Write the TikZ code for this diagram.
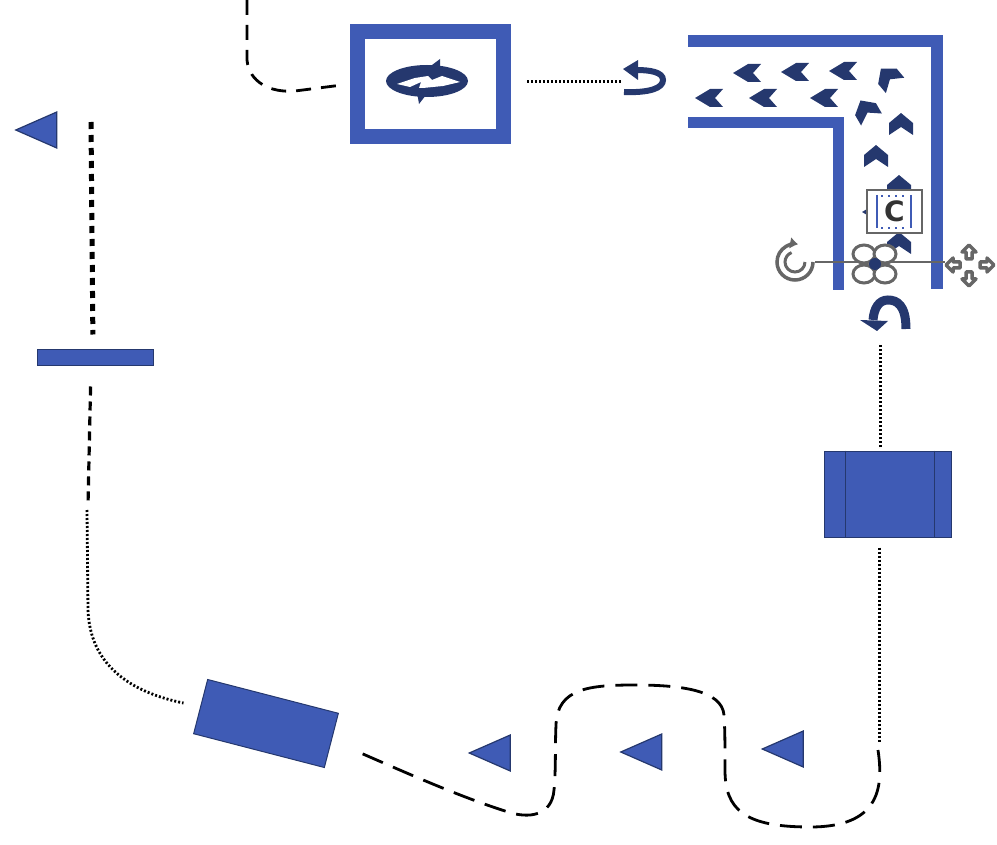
\documentclass[tikz,border=0pt]{standalone}
\usepackage{fontspec}
\setsansfont{DejaVu Sans}
\usepackage{tikz}
\usetikzlibrary{arrows.meta,shapes.geometric}
\definecolor{shapeBlue}{HTML}{3F5BB5}
\definecolor{darkNavy}{HTML}{25386E}
\definecolor{handleGray}{HTML}{666666}
\tikzset{%
  >={Latex[width=2mm,length=2mm]},
  % Specifications for style of nodes:
       base/.style = {rectangle, draw=darkNavy, line width=1pt, fill=shapeBlue,
                      inner sep=0pt},
    triMark/.style = {isosceles triangle, isosceles triangle apex angle=48,
                      isosceles triangle stretches, shape border rotate=180,
                      draw=darkNavy, line width=1.2pt, fill=shapeBlue, inner sep=0pt,
                      minimum width=36, minimum height=41},
    ringBox/.style = {rectangle, draw=shapeBlue, line width=15pt, fill=white,
                      inner sep=0pt, minimum width=146, minimum height=105},
   iconSpot/.style = {inner sep=0pt, minimum width=40, minimum height=34},
  % Specifications for style of connectors:
   dashLine/.style = {line width=2.8pt, dash pattern=on 15pt off 10pt},
  thickDash/.style = {line width=5pt, dash pattern=on 7pt off 6pt},
    dotLine/.style = {line width=3pt, dash pattern=on 2pt off 2pt},
   wallLine/.style = {draw=shapeBlue, line width=12pt, line cap=butt, line join=miter},
  chevron/.pic = {\fill[darkNavy] (-14,0) -- (1,-9) -- (14,-9) -- (6,0) -- (14,9) -- (1,9) -- cycle;},
  chevronUp/.pic = {\fill[darkNavy] (0,-11) -- (12,-1) -- (12,11) -- (0,3) -- (-12,11) -- (-12,-1) -- cycle;},
  moveTip/.pic = {\draw[handleGray, fill=white, line width=3.5pt, line join=round]
      (0,-8) -- (-7,-1) -- (-3,-1) -- (-3,6) -- (3,6) -- (3,-1) -- (7,-1) -- cycle;},
}
\begin{document}
\begin{tikzpicture}[x=1pt,y=-1pt]
  \useasboundingbox (0,0) rectangle (997,845);
  % Specification of nodes (position, etc.)
  \node (firstTri)  [triMark] at (45,130) {};
  \node (thinBar)   [base, minimum width=116, minimum height=16] at (95,358) {};
  \node (ringFrame) [ringBox] at (430.5,84) {};
  \node (ringIcon)  [iconSpot, minimum width=82] at (427,81) {};
  \node (turnIcon)  [iconSpot] at (645,82) {};
  \node (uTurn)     [iconSpot] at (885,315) {};
  \node (bigBox)    [base, minimum width=127, minimum height=86] at (887.5,494) {};
  \node (tiltBox)   [base, minimum width=135, minimum height=56, rotate=-14.5] at (266,723.5) {};
  \node (triOne)    [triMark] at (498.5,753) {};
  \node (triTwo)    [triMark] at (650,752) {};
  \node (triThree)  [triMark] at (791.5,749) {};
  \coordinate (topFree) at (247,0);
  \coordinate (leftTop) at (91,122);
  \draw[darkNavy, line width=1pt] (bigBox.north west) ++(22,0) -- ++(0,86);
  \draw[darkNavy, line width=1pt] (bigBox.north east) ++(-17,0) -- ++(0,86);

  % walls of the corridor
  \draw[wallLine] (688,41) -- (937,41) -- (937,289);
  \draw[wallLine, line width=11pt] (688,123) -- (838,123) -- (838,290);
  % chevrons in the corridor
  \foreach \px/\py in {747/73, 795/72, 843/71, 709/98, 763/98, 824/98, 876/212}
    \pic at (\px,\py) {chevron};
  \foreach \px/\py/\turn in {888/77/40, 866/110/30, 901/124/0, 876/156/0, 899/186/0, 899/243/0}
    \pic[rotate=\turn] at (\px,\py) {chevronUp};

  % ring icon
  \fill[darkNavy] (ringIcon) ellipse [x radius=41, y radius=16];
  \fill[darkNavy] (428,68) -- (440,59) -- (440,72) -- cycle;
  \fill[darkNavy] (426,95) -- (419,104) -- (417,92) -- cycle;
  \fill[white] (397,84) -- (415,78) -- (428,76) -- (432,80) -- (442,76) -- (460,82)
      -- (443,86) -- (423,88) -- (419,88) -- (421,82) -- (410,87) -- cycle;
  % turn icon
  \draw[darkNavy, line width=6pt] (624,92) .. controls (650,93) and (663,88) .. (663,80)
      .. controls (663,72) and (650,70) .. (636,70);
  \fill[darkNavy] (623,69) -- (638,60) -- (638,80) -- cycle;
  % u-turn icon
  \draw[darkNavy, line width=9pt] (906,329) .. controls (906,305) and (897,300) .. (888,300)
      .. controls (879,300) and (874,308) .. (873,320);
  \fill[darkNavy] (860,320) -- (888,321) -- (877,331) -- cycle;

  % selection handles
  \draw[handleGray, line width=1.5pt] (815,262) -- (945,262);
  \draw[handleGray, line width=3.5pt, -{Latex[width=12pt,length=8pt]}] (813,262) arc [start angle=0, end angle=280, radius=18];
  \draw[handleGray, line width=3pt] (805,262) arc [start angle=0, end angle=250, radius=10];
  \foreach \px/\py in {864/254, 885/254, 864/274, 885/274}
    \draw[handleGray, line width=3pt, fill=white] (\px,\py) ellipse [x radius=11, y radius=9];
  \fill[darkNavy] (875,264) circle (6);
  \pic[rotate=0]   at (969,253) {moveTip};
  \pic[rotate=180] at (969,278) {moveTip};
  \pic[rotate=90]  at (954,265) {moveTip};
  \pic[rotate=-90] at (986,265) {moveTip};
  \node (cBox) [draw=handleGray, line width=1.5pt, fill=white, inner sep=0pt,
      minimum width=55, minimum height=43, text=black!80,
      font=\sffamily\bfseries\fontsize{28}{28}\selectfont] at (894.5,211.5) {C};
  \draw[shapeBlue, line width=2pt] (877,195) -- (877,228);
  \draw[shapeBlue, line width=2pt] (911,195) -- (911,228);
  \draw[shapeBlue, line width=2pt, dash pattern=on 2pt off 5pt] (881,196) -- (908,196);
  \draw[shapeBlue, line width=2pt, dash pattern=on 2pt off 5pt] (881,228) -- (908,228);

  % Specification of lines between nodes specified above
  \draw[dashLine, shorten >=14pt] (topFree) -- (247,60) .. controls (249,82) and (270,93) .. (295,91)
      -- (ringFrame.west) ;
  \draw[dotLine, shorten <=16pt, shorten >=2pt] (turnIcon.west -| ringFrame.east) -- (turnIcon.west);
  \draw[dotLine, shorten <=13pt] (uTurn.south -| 880,0) -- ++(0,116);
  \draw[dotLine, shorten <=10pt] (bigBox.south -| 879,0) -- (879,742);
  \draw[dashLine, dash pattern=on 22pt off 11pt, shorten >=25pt] (878,750) .. controls (884,790) and (878,827) .. (810,827)
      .. controls (745,827) and (725,810) .. (725,770)
      .. controls (725,745) and (725,730) .. (724,715)
      .. controls (722,690) and (680,685) .. (635,685)
      .. controls (590,685) and (557,688) .. (556,725)
      .. controls (555,745) and (556,770) .. (554,790)
      .. controls (552,815) and (530,820) .. (505,811)
      .. controls (455,795) and (400,770) .. (tiltBox.east);
  \draw[thickDash, shorten >=15pt] (leftTop) -- ([xshift=-2pt]thinBar.north);
  \draw[dashLine, line width=3.2pt, dash pattern=on 9pt off 6pt, shorten <=20pt] (thinBar.south -| 91,0) -- (88,505);
  \draw[dotLine, line width=2.8pt, shorten >=17pt] (87,510) -- (88,610) .. controls (90,665) and (130,692) .. (tiltBox.west);
\end{tikzpicture}
\end{document}
